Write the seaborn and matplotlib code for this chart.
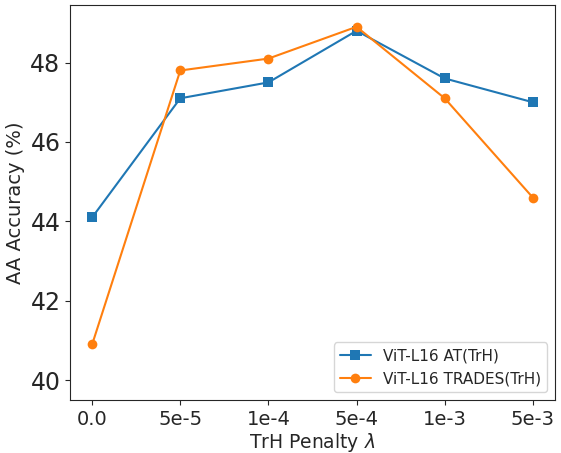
import numpy as np
import pandas as pd
import matplotlib
matplotlib.use('Agg')
import matplotlib.pyplot as plt
import seaborn as sns

penalties = ['0.0', '5e-5', '1e-4', '5e-4', '1e-3', '5e-3']
at_trh = [44.1, 47.1, 47.5, 48.8, 47.6, 47.0]
trades_trh = [40.9, 47.8, 48.1, 48.9, 47.1, 44.6]

sns.set_style('ticks')
plt.rcParams['font.family'] = ['DejaVu Sans']

fig, ax = plt.subplots(figsize=(5.61, 4.53), dpi=100)
x = np.arange(len(penalties))
sns.lineplot(x=x, y=at_trh, marker='s', markersize=7, markeredgewidth=0,
             color='#1f77b4', label='ViT-L16 AT(TrH)', ax=ax)
sns.lineplot(x=x, y=trades_trh, marker='o', markersize=7, markeredgewidth=0,
             color='#ff7f0e', label='ViT-L16 TRADES(TrH)', ax=ax)

ax.set_xticks(x)
ax.set_xticklabels(penalties)
ax.set_ylim(39.5, 49.45)
ax.set_yticks([40, 42, 44, 46, 48])
ax.tick_params(axis='x', labelsize=14)
ax.tick_params(axis='y', labelsize=17)
ax.set_xlabel(r'TrH Penalty $\lambda$', fontsize=13.5, labelpad=2)
ax.set_ylabel('AA Accuracy (%)', fontsize=14)
ax.legend(loc='lower right', fontsize=11)

plt.subplots_adjust(left=0.125, right=0.989, top=0.989, bottom=0.117)
plt.savefig('out.png')
